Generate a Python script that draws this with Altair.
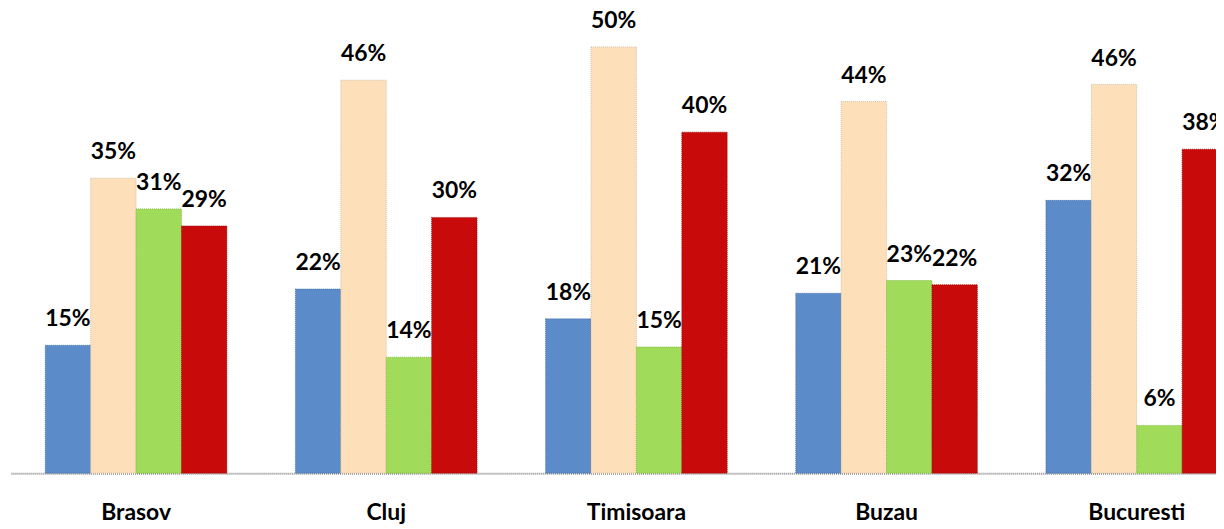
import altair as alt
import pandas as pd

cities = ["Brasov", "Cluj", "Timisoara", "Buzau", "Bucuresti"]
series = ["s1", "s2", "s3", "s4"]
colors = ["#5B8BC8", "#FDDFBA", "#A0DB5A", "#C80A0A"]
s1 = [15.0, 21.6, 18.1, 21.1, 32.0]
s2 = [34.6, 46.1, 50.0, 43.6, 45.6]
s3 = [31.0, 13.6, 14.8, 22.6, 5.6]
s4 = [29.0, 30.0, 40.0, 22.1, 38.0]

rows = []
for name, vals in zip(series, [s1, s2, s3, s4]):
    for c, v in zip(cities, vals):
        rows.append({"city": c, "series": name, "value": v / 100})
df = pd.DataFrame(rows)

xenc = alt.X("city:N", sort=cities, title=None,
             scale=alt.Scale(paddingInner=0.274, paddingOuter=0.137, range=[0, 1256]),
             axis=alt.Axis(labelAngle=0, ticks=False, labelPadding=29,
                           labelFont="Lato", labelFontWeight="bold", labelFontSize=23,
                           labelColor="#000000", domainColor="#888888",
                           domainDash=[1, 1], domainWidth=2))
yenc = alt.Y("value:Q", title=None, scale=alt.Scale(domain=[0, 0.5], nice=False),
             axis=None)
off = alt.XOffset("series:N", sort=series)

base = alt.Chart(df).encode(x=xenc, y=yenc, xOffset=off)

bars = base.mark_bar(strokeWidth=0.8, strokeDash=[1, 1]).encode(
    color=alt.Color("series:N", sort=series,
                    scale=alt.Scale(domain=series, range=colors), legend=None),
    stroke=alt.Stroke("series:N", sort=series,
                      scale=alt.Scale(domain=series,
                                      range=["#3d6aa5", "#c9b79c", "#79b236", "#9a0606"]),
                      legend=None),
)

labels = base.mark_text(dy=-14, fontSize=23, fontWeight="bold", font="Lato",
                        color="#000000", baseline="bottom").encode(
    text=alt.Text("value:Q", format=".0%")
)

chart = (bars + labels).properties(
    width=1210, height=428,
    autosize=alt.AutoSizeParams(type="none"),
    padding={"left": 3, "top": 38, "right": 0, "bottom": 54},
).configure_view(stroke=None)

chart.save("out.html", embed_options={"renderer": "svg", "actions": False})
